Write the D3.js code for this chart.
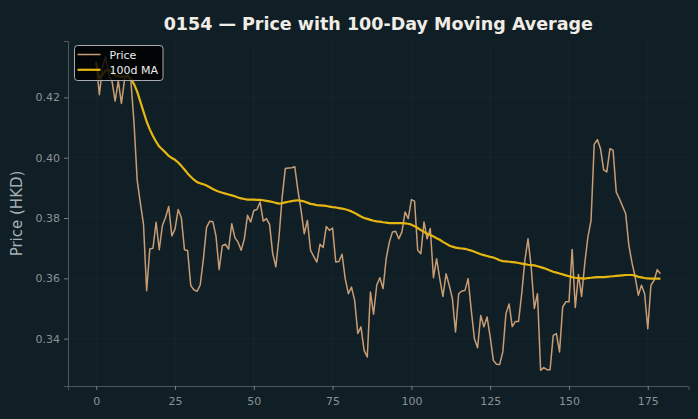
<!DOCTYPE html>
<html>
<head>
<meta charset="utf-8">
<script src="https://cdn.jsdelivr.net/npm/d3@7"></script>
<style>
  html, body { margin: 0; padding: 0; background: #101f26; }
  svg { display: block; }
  text { font-family: "DejaVu Sans", sans-serif; }
</style>
</head>
<body>
<svg id="chart" width="698" height="419"></svg>
<script>
const title = "0154 \u2014 Price with 100-Day Moving Average";
const yLabel = "Price (HKD)";
const seriesNames = ["Price", "100d MA"];
const xTicks = [0, 25, 50, 75, 100, 125, 150, 175];
const yTicks = [0.34, 0.36, 0.38, 0.40, 0.42];

const price = [
  0.4316, 0.4209, 0.4300, 0.4335, 0.4275, 0.4255, 0.4188, 0.4255, 0.4180, 0.4260,
  0.4277, 0.4255, 0.4115, 0.3926, 0.3850, 0.3780, 0.3559, 0.3697, 0.3700, 0.3786,
  0.3695, 0.3775, 0.3802, 0.3838, 0.3741, 0.3763, 0.3828, 0.3802, 0.3695, 0.3692,
  0.3576, 0.3562, 0.3557, 0.3578, 0.3664, 0.3769, 0.3789, 0.3788, 0.3741, 0.3629,
  0.3708, 0.3713, 0.3697, 0.3781, 0.3735, 0.3720, 0.3693, 0.3731, 0.3809, 0.3787,
  0.3825, 0.3828, 0.3853, 0.3790, 0.3798, 0.3779, 0.3682, 0.3638, 0.3737, 0.3870,
  0.3964, 0.3966, 0.3967, 0.3970, 0.3892, 0.3825, 0.3748, 0.3792, 0.3693, 0.3673,
  0.3654, 0.3713, 0.3702, 0.3772, 0.3759, 0.3767, 0.3654, 0.3656, 0.3680, 0.3599,
  0.3549, 0.3571, 0.3527, 0.3417, 0.3439, 0.3361, 0.3339, 0.3555, 0.3481, 0.3577,
  0.3602, 0.3566, 0.3665, 0.3720, 0.3754, 0.3756, 0.3731, 0.3754, 0.3820, 0.3798,
  0.3861, 0.3856, 0.3693, 0.3682, 0.3787, 0.3731, 0.3765, 0.3602, 0.3665, 0.3599,
  0.3540, 0.3615, 0.3577, 0.3533, 0.3422, 0.3549, 0.3558, 0.3560, 0.3599, 0.3494,
  0.3400, 0.3370, 0.3477, 0.3439, 0.3472, 0.3406, 0.3328, 0.3315, 0.3314, 0.3356,
  0.3483, 0.3515, 0.3440, 0.3457, 0.3457, 0.3549, 0.3660, 0.3731, 0.3638, 0.3500,
  0.3549, 0.3295, 0.3304, 0.3297, 0.3297, 0.3411, 0.3417, 0.3356, 0.3505, 0.3522,
  0.3522, 0.3696, 0.3503, 0.3613, 0.3540, 0.3649, 0.3737, 0.3792, 0.4044, 0.4060,
  0.4030, 0.3960, 0.3953, 0.4030, 0.4024, 0.3886, 0.3864, 0.3839, 0.3814, 0.3709,
  0.3651, 0.3604, 0.3544, 0.3577, 0.3549, 0.3433, 0.3577, 0.3593, 0.3629, 0.3615
];

const ma100 = [
  0.4316, 0.4263, 0.4275, 0.4290, 0.4290, 0.4283, 0.4273, 0.4271, 0.4268, 0.4270,
  0.4270, 0.4261, 0.4244, 0.4219, 0.4186, 0.4153, 0.4120, 0.4094, 0.4072, 0.4053,
  0.4037, 0.4027, 0.4017, 0.4006, 0.3999, 0.3993, 0.3984, 0.3973, 0.3961, 0.3948,
  0.3937, 0.3927, 0.3919, 0.3915, 0.3912, 0.3908, 0.3902, 0.3896, 0.3891, 0.3887,
  0.3884, 0.3881, 0.3878, 0.3875, 0.3872, 0.3868, 0.3865, 0.3863, 0.3861, 0.3861,
  0.3861, 0.3860, 0.3860, 0.3859, 0.3857, 0.3855, 0.3853, 0.3850, 0.3848, 0.3849,
  0.3852, 0.3854, 0.3856, 0.3858, 0.3859, 0.3857, 0.3855, 0.3851, 0.3847, 0.3845,
  0.3843, 0.3842, 0.3841, 0.3840, 0.3838, 0.3836, 0.3835, 0.3833, 0.3831, 0.3829,
  0.3826, 0.3822, 0.3817, 0.3811, 0.3805, 0.3800, 0.3797, 0.3794, 0.3791, 0.3789,
  0.3788, 0.3786, 0.3785, 0.3783, 0.3783, 0.3783, 0.3783, 0.3783, 0.3782, 0.3781,
  0.3778, 0.3773, 0.3767, 0.3760, 0.3754, 0.3748, 0.3744, 0.3739, 0.3733, 0.3728,
  0.3721, 0.3715, 0.3709, 0.3705, 0.3702, 0.3700, 0.3699, 0.3698, 0.3695, 0.3692,
  0.3688, 0.3684, 0.3680, 0.3677, 0.3674, 0.3671, 0.3669, 0.3665, 0.3660, 0.3657,
  0.3656, 0.3655, 0.3654, 0.3653, 0.3651, 0.3649, 0.3647, 0.3645, 0.3644, 0.3643,
  0.3640, 0.3637, 0.3634, 0.3630, 0.3626, 0.3622, 0.3619, 0.3616, 0.3613, 0.3610,
  0.3607, 0.3604, 0.3602, 0.3601, 0.3600, 0.3599, 0.3601, 0.3602, 0.3603, 0.3604,
  0.3604, 0.3604, 0.3605, 0.3606, 0.3607, 0.3608, 0.3609, 0.3610, 0.3611, 0.3611,
  0.3611, 0.3609, 0.3605, 0.3603, 0.3601, 0.3600, 0.3599, 0.3599, 0.3599, 0.3599
];

const colors = { bg: "#101f26", price: "#c99d74", ma: "#e6b711", grid: "rgba(255,255,255,0.045)",
                 spine: "#4f5659", tick: "#8a9296", title: "#f0ede6", label: "#a7afb3" };

const W = 698, H = 419;
const m = { top: 41, right: 9.4, bottom: 33, left: 68 };
const svg = d3.select("#chart");
svg.append("rect").attr("width", W).attr("height", H).attr("fill", colors.bg);

const n = price.length;
const xPad = (n - 1) * 0.05;
const x = d3.scaleLinear().domain([-xPad, n - 1 + xPad]).range([m.left, W - m.right]);
const ext = d3.extent(price.concat(ma100));
const yPad = (ext[1] - ext[0]) * 0.05;
const y = d3.scaleLinear().domain([ext[0] - yPad, ext[1] + yPad]).range([H - m.bottom, m.top]);

// grid
const g = svg.append("g");
g.selectAll("line.vg").data(xTicks).join("line")
  .attr("x1", d => x(d)).attr("x2", d => x(d)).attr("y1", m.top).attr("y2", H - m.bottom)
  .attr("stroke", colors.grid).attr("stroke-width", 0.8);
g.selectAll("line.hg").data(yTicks).join("line")
  .attr("y1", d => y(d)).attr("y2", d => y(d)).attr("x1", m.left).attr("x2", W - m.right)
  .attr("stroke", colors.grid).attr("stroke-width", 0.8);

// axes
const xAxis = d3.axisBottom(x).tickValues(xTicks).tickSize(4).tickPadding(7).tickFormat(d3.format("d"));
const yAxis = d3.axisLeft(y).tickValues(yTicks).tickSize(4).tickPadding(4).tickFormat(d3.format(".2f"));
const gx = svg.append("g").attr("transform", `translate(0,${H - m.bottom})`).call(xAxis);
const gy = svg.append("g").attr("transform", `translate(${m.left},0)`).call(yAxis);
[gx, gy].forEach(a => {
  a.select(".domain").attr("stroke", colors.spine).attr("stroke-width", 1);
  a.selectAll(".tick line").attr("stroke", colors.tick).attr("stroke-width", 0.8);
  a.selectAll(".tick text").attr("fill", colors.tick).style("font-size", "11px")
    .style("font-family", "DejaVu Sans, sans-serif");
});

// lines
const line = d3.line().x((d, i) => x(i)).y(d => y(d));
svg.append("path").datum(price).attr("d", line).attr("fill", "none")
  .attr("stroke", colors.price).attr("stroke-width", 1.5).attr("stroke-linejoin", "round");
svg.append("path").datum(ma100).attr("d", line).attr("fill", "none")
  .attr("stroke", colors.ma).attr("stroke-width", 2.2).attr("stroke-linejoin", "round");

// title and label
svg.append("text").attr("x", (m.left + W - m.right) / 2).attr("y", 30)
  .attr("text-anchor", "middle").attr("fill", colors.title)
  .style("font-size", "17.5px").style("font-weight", "bold").text(title);
svg.append("text").attr("transform", `translate(22,${(m.top + H - m.bottom) / 2}) rotate(-90)`)
  .attr("text-anchor", "middle").attr("fill", colors.label)
  .style("font-size", "15px").text(yLabel);

// legend
const lg = svg.append("g").attr("transform", "translate(74.5,45.5)");
lg.append("rect").attr("width", 88.5).attr("height", 35).attr("rx", 3)
  .attr("fill", "rgba(0,0,0,0.82)").attr("stroke", "#a9acae").attr("stroke-width", 1);
const legendColors = [colors.price, colors.ma];
const legendWidths = [1.5, 2.2];
seriesNames.forEach((name, i) => {
  const yy = 9 + i * 15.3;
  lg.append("line").attr("x1", 3).attr("x2", 26).attr("y1", yy).attr("y2", yy)
    .attr("stroke", legendColors[i]).attr("stroke-width", legendWidths[i]);
  lg.append("text").attr("x", 35).attr("y", yy + 4).attr("fill", "#eeeeee")
    .style("font-size", "11px").text(name);
});
</script>
</body>
</html>
